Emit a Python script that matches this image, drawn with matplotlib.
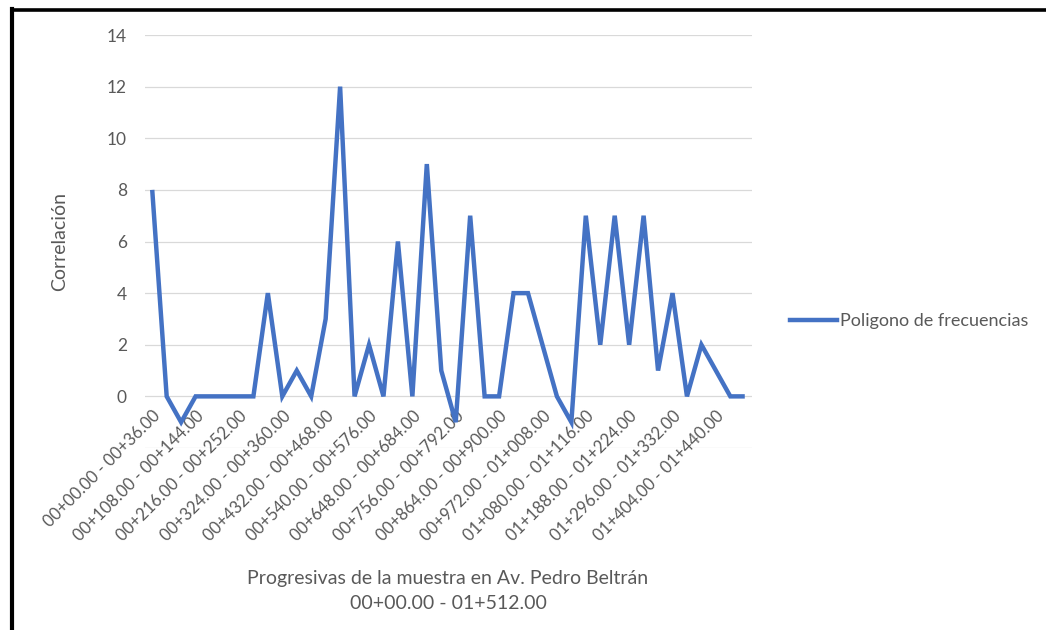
import numpy as np
import matplotlib
matplotlib.use("Agg")
import matplotlib.pyplot as plt
from matplotlib.lines import Line2D

plt.rcParams['font.family'] = ['Lato', 'DejaVu Sans']

# tramos de 36 m a lo largo de la avenida (00+00.00 - 01+512.00)
paso = 36
n_tramos = 42
valores = [8, 0, -1, 0, 0, 0, 0, 0, 4, 0,
           1, 0, 3, 12, 0, 2, 0, 6, 0, 9,
           1, -1, 7, 0, 0, 4, 4, 2, 0, -1,
           7, 2, 7, 2, 7, 1, 4, 0, 2, 1,
           0, 0]
serie = "Poligono de frecuencias"
y_ticks = [0, 2, 4, 6, 8, 10, 12, 14]


def prog(m):
    if m >= 1000:
        return f"01+{m - 1000:03d}.00"
    return f"00+{m:02d}.00"


etiquetas = [f"{prog(paso * i)} - {prog(paso * (i + 1))}" for i in range(n_tramos)]

gris = "#595959"
azul = "#4472C4"

fig = plt.figure(figsize=(10.46, 6.3), dpi=100)
ax = fig.add_axes([145 / 1046, 1 - 448 / 630, (752 - 145) / 1046, (448 - 35) / 630])

x = np.arange(n_tramos)
ax.plot(x, valores, color=azul, lw=3.2, solid_joinstyle="miter", solid_capstyle="butt")

ax.set_xlim(-0.5, n_tramos - 0.5)
ax.set_ylim(-2, 14)
for g in range(-2, 15, 2):
    ax.axhline(g, color="#D9D9D9", lw=0.9, zorder=0)

ax.set_yticks(y_ticks)
ax.tick_params(axis="y", length=0, pad=13, labelsize=12.5, labelcolor=gris)

# eje de categorias cruzando en 0
for s in ["top", "right", "left"]:
    ax.spines[s].set_visible(False)
ax.spines["bottom"].set_position(("data", 0))
ax.spines["bottom"].set_visible(False)
ax.set_xticks(x[::3])
ax.set_xticklabels(etiquetas[::3], rotation=45, ha="right", va="top",
                   rotation_mode="anchor", fontsize=12, color=gris)
ax.tick_params(axis="x", length=0, pad=8)

ax.set_ylabel("Correlación", fontsize=14, color=gris, labelpad=28)

fig.text(448 / 1046, 1 - 591 / 630,
         "Progresivas de la muestra en Av. Pedro Beltrán\n00+00.00 - 01+512.00",
         ha="center", va="center", fontsize=14, color=gris, linespacing=1.6)

h = Line2D([], [], color=azul, lw=3.2)
fig.legend([h], [serie], loc="center left", bbox_to_anchor=(790 / 1046, 1 - 321 / 630),
           frameon=False, fontsize=13, handlelength=2.6, handletextpad=0.15,
           labelcolor=gris, borderaxespad=0, borderpad=0)

# marco superior e izquierdo
fig.add_artist(Line2D([11.5 / 1046, 1], [1 - 9.5 / 630, 1 - 9.5 / 630],
                      transform=fig.transFigure, color="black", lw=2.6))
fig.add_artist(Line2D([11.5 / 1046, 11.5 / 1046], [0, 1 - 8.5 / 630],
                      transform=fig.transFigure, color="black", lw=3))

fig.savefig("out.png", dpi=100)
